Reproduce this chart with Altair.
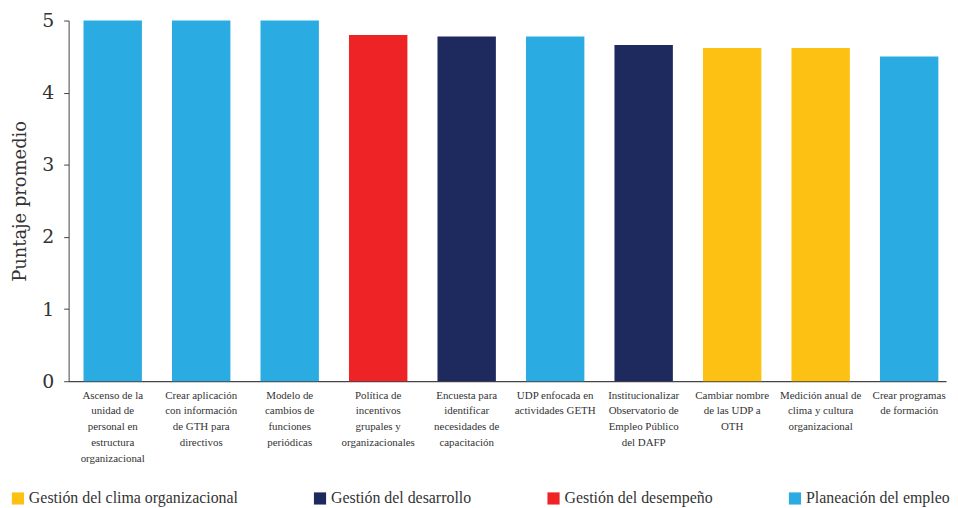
import altair as alt
import pandas as pd

categories = [
    "Ascenso de la|unidad de|personal en|estructura|organizacional",
    "Crear aplicación|con información|de GTH para|directivos",
    "Modelo de|cambios de|funciones|periódicas",
    "Política de|incentivos|grupales y|organizacionales",
    "Encuesta para|identificar|necesidades de|capacitación",
    "UDP enfocada en|actividades GETH",
    "Institucionalizar|Observatorio de|Empleo Público|del DAFP",
    "Cambiar nombre|de las UDP a|OTH",
    "Medición anual de|clima y cultura|organizacional",
    "Crear programas|de formación",
]
scores = [5.0, 5.0, 5.0, 4.8, 4.78, 4.78, 4.66, 4.62, 4.62, 4.5]
groups = [
    "Planeación del empleo",
    "Planeación del empleo",
    "Planeación del empleo",
    "Gestión del desempeño",
    "Gestión del desarrollo",
    "Planeación del empleo",
    "Gestión del desarrollo",
    "Gestión del clima organizacional",
    "Gestión del clima organizacional",
    "Planeación del empleo",
]
group_order = [
    "Gestión del clima organizacional",
    "Gestión del desarrollo",
    "Gestión del desempeño",
    "Planeación del empleo",
]
group_colors = ["#FDC113", "#1E2A5D", "#EE2326", "#2AACE2"]

df = pd.DataFrame({"accion": categories, "puntaje": scores, "grupo": groups})

FONT = "Liberation Serif"
WIDE = "DejaVu Serif"
TXT = "#333333"

chart = (
    alt.Chart(df)
    .mark_bar()
    .encode(
        x=alt.X(
            "accion:N",
            sort=None,
            title=None,
            scale=alt.Scale(paddingInner=0.34, paddingOuter=0.1275, align=0.66),
            axis=alt.Axis(
                labelAngle=0,
                labelExpr="split(datum.label, '|')",
                labelFont=FONT,
                labelFontSize=11,
                labelLineHeight=16,
                labelColor=TXT,
                labelBaseline="top",
                labelPadding=8,
                ticks=False,
                domainColor="#444444",
                domainWidth=1.2,
                labelLimit=200,
            ),
        ),
        y=alt.Y(
            "puntaje:Q",
            title="Puntaje promedio",
            scale=alt.Scale(domain=[0, 5]),
            axis=alt.Axis(
                values=[0, 1, 2, 3, 4, 5],
                grid=False,
                labelFont=WIDE,
                labelFontSize=19,
                labelColor=TXT,
                labelPadding=10,
                tickSize=5,
                tickColor="#444444",
                domainColor="#444444",
                titleFont=WIDE,
                titleFontSize=18,
                titleFontWeight="normal",
                titleColor=TXT,
                titlePadding=12,
            ),
        ),
        color=alt.Color(
            "grupo:N",
            scale=alt.Scale(domain=group_order, range=group_colors),
            legend=alt.Legend(
                title=None,
                orient="none",
                direction="horizontal",
                legendX=-59,
                legendY=473,
                symbolType="square",
                symbolSize=150,
                symbolStrokeWidth=0,
                labelFont=FONT,
                labelFontSize=16,
                labelColor=TXT,
                labelOffset=3,
                labelLimit=400,
                columnPadding=74,
            ),
        ),
    )
    .properties(width=883, height=363, padding={"left": 2, "top": 2, "right": 0, "bottom": 0})
    .configure_view(stroke=None)
)

chart.save("out.html", embed_options={"renderer": "svg", "actions": False})
